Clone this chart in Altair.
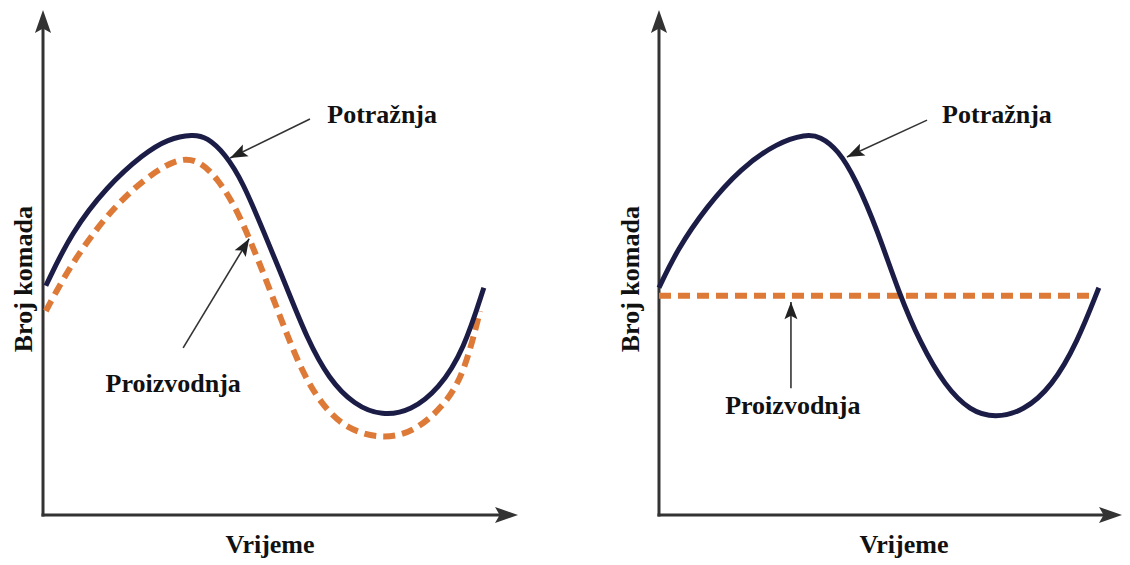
import math
import altair as alt
import pandas as pd

# ---------------- data (time 0..100, count 0..100) ----------------
# Left panel: production follows demand
L_time = [0.6, 6.0, 13.5, 21.1, 26.3, 31.6, 34.5, 38.3, 42.1, 46.5, 51.2, 55.6, 60.2, 65.5, 71.4, 77.5, 83.4, 88.6, 92.8]
L_demand = [45.4, 56.0, 65.1, 71.5, 74.5, 75.4, 74.8, 71.6, 65.9, 56.0, 45.3, 34.9, 26.9, 21.8, 19.6, 20.6, 25.0, 32.7, 45.0]
L_prod_time = [0.6, 5.9, 13.5, 21.1, 28.6, 33.1, 36.8, 40.6, 45.1, 49.7, 54.1, 58.5, 63.8, 71.4, 78.1, 84.2, 88.6, 92.0]
L_prod = [40.4, 49.7, 59.6, 66.5, 70.9, 70.1, 66.5, 61.0, 51.1, 39.8, 29.1, 22.0, 17.0, 15.0, 16.4, 21.4, 27.7, 40.4]

# Right panel: constant production
R_time = [0.0, 3.9, 10.2, 17.7, 25.5, 31.7, 34.8, 38.7, 42.5, 47.1, 51.8, 56.4, 61.8, 67.2, 72.6, 78.8, 84.9, 90.3, 95.0]
R_demand = [45.0, 52.5, 61.0, 68.7, 73.7, 75.4, 75.0, 72.3, 66.5, 56.6, 44.0, 34.1, 25.5, 20.6, 19.2, 20.6, 25.5, 34.1, 45.0]
R_prod_time = [0.0, 94.2]
R_prod = [43.4, 43.4]

# annotation labels and arrows (start -> tip)
L_labels = ["Potražnja", "Proizvodnja"]
L_label_x = [71.4, 27.4]
L_label_y = [77.6, 24.4]
L_arrow_x1 = [56.2, 29.5]
L_arrow_y1 = [78.4, 33.1]
L_arrow_x2 = [39.4, 43.4]
L_arrow_y2 = [70.7, 54.7]

R_labels = ["Potražnja", "Proizvodnja"]
R_label_x = [73.0, 28.9]
R_label_y = [77.6, 20.0]
R_arrow_x1 = [57.9, 28.5]
R_arrow_y1 = [78.2, 25.1]
R_arrow_x2 = [40.6, 28.5]
R_arrow_y2 = [70.9, 42.2]

X_TITLE = "Vrijeme"
Y_TITLE = "Broj komada"
L_xtitle_pos = (47.8, -7.5)
L_ytitle_pos = (-4.1, 46.7)
R_xtitle_pos = (52.9, -7.5)
R_ytitle_pos = (-6.0, 46.7)

# ---------------- styling / layout ----------------
W, H = 557, 549
L_XDOM = [-7.37, 109.89]
R_XDOM = [-20.30, 100.0]
YDOM = [-8.32, 100.40]

NAVY = "#1c1d47"
ORANGE = "#de7a38"
AXIS = "#333333"
FONT = "Liberation Serif"
FS = 26

HEAD_BIG = "M0,0 L0.7,2 L0,1.6 L-0.7,2 Z"
HEAD_SMALL = "M0,0 L0.75,2 L0,1.6 L-0.75,2 Z"


def angle_of(x1, y1, x2, y2, kx, ky):
    dx = (x2 - x1) * kx
    dy = -(y2 - y1) * ky
    return math.degrees(math.atan2(dx, -dy)) % 360


def panel(time, demand, ptime, prod, labels, lx, ly, ax1, ay1, ax2, ay2,
          xdom, xt_pos, yt_pos):
    kx = W / (xdom[1] - xdom[0])
    ky = H / (YDOM[1] - YDOM[0])
    xs = alt.Scale(domain=xdom, nice=False, zero=False)
    ys = alt.Scale(domain=YDOM, nice=False, zero=False)
    X = lambda f: alt.X(f, type="quantitative", scale=xs, axis=None)
    Y = lambda f: alt.Y(f, type="quantitative", scale=ys, axis=None)

    dem = pd.DataFrame({"t": time, "v": demand})
    prd = pd.DataFrame({"t": ptime, "v": prod})

    # axes with arrow heads
    back_x = 9 / kx
    back_y = 9 / ky
    axes = pd.DataFrame({"x": [0, 0], "y": [0, 0],
                         "x2": [0, 100 - back_x], "y2": [100 - back_y, 0]})
    tips = pd.DataFrame({"x": [0, 100], "y": [100, 0], "ang": [0, 90]})

    arrows = pd.DataFrame({"x": ax1, "y": ay1, "x2": ax2, "y2": ay2})
    heads = pd.DataFrame({
        "x": ax2, "y": ay2,
        "ang": [angle_of(a, b, c, d, kx, ky) for a, b, c, d in zip(ax1, ay1, ax2, ay2)],
    })
    lab = pd.DataFrame({"x": lx, "y": ly, "text": labels})
    xt = pd.DataFrame({"x": [xt_pos[0]], "y": [xt_pos[1]], "text": [X_TITLE]})
    yt = pd.DataFrame({"x": [yt_pos[0]], "y": [yt_pos[1]], "text": [Y_TITLE]})

    axis_lines = alt.Chart(axes).mark_rule(color=AXIS, strokeWidth=3, strokeCap="square").encode(
        x=X("x"), y=Y("y"), x2="x2", y2="y2")
    axis_heads = alt.Chart(tips).mark_point(shape=HEAD_BIG, filled=True, size=529, opacity=1,
                                            color=AXIS, strokeWidth=0).encode(
        x=X("x"), y=Y("y"), angle=alt.Angle("ang:Q", scale=None))

    prod_line = alt.Chart(prd).mark_line(color=ORANGE, strokeWidth=6, strokeDash=[12, 7],
                                         interpolate="basis").encode(x=X("t"), y=Y("v"))
    dem_line = alt.Chart(dem).mark_line(color=NAVY, strokeWidth=5,
                                        interpolate="basis").encode(x=X("t"), y=Y("v"))

    ann_lines = alt.Chart(arrows).mark_rule(color=AXIS, strokeWidth=1.6).encode(
        x=X("x"), y=Y("y"), x2="x2", y2="y2")
    ann_heads = alt.Chart(heads).mark_point(shape=HEAD_SMALL, filled=True, size=300, opacity=1,
                                            color="#222222", strokeWidth=0).encode(
        x=X("x"), y=Y("y"), angle=alt.Angle("ang:Q", scale=None))

    txt = dict(font=FONT, fontWeight="bold", fontSize=FS, color="#111111")
    labels_m = alt.Chart(lab).mark_text(align="center", baseline="alphabetic", **txt).encode(
        x=X("x"), y=Y("y"), text="text:N")
    xt_m = alt.Chart(xt).mark_text(align="center", baseline="alphabetic", **txt).encode(
        x=X("x"), y=Y("y"), text="text:N")
    yt_m = alt.Chart(yt).mark_text(align="center", baseline="middle", angle=270, **txt).encode(
        x=X("x"), y=Y("y"), text="text:N")

    return alt.layer(axis_lines, axis_heads, prod_line, dem_line, ann_lines, ann_heads,
                     labels_m, xt_m, yt_m).properties(width=W, height=H)


left = panel(L_time, L_demand, L_prod_time, L_prod, L_labels, L_label_x, L_label_y,
             L_arrow_x1, L_arrow_y1, L_arrow_x2, L_arrow_y2, L_XDOM, L_xtitle_pos, L_ytitle_pos)
right = panel(R_time, R_demand, R_prod_time, R_prod, R_labels, R_label_x, R_label_y,
              R_arrow_x1, R_arrow_y1, R_arrow_x2, R_arrow_y2, R_XDOM, R_xtitle_pos, R_ytitle_pos)

chart = alt.hconcat(left, right, spacing=0, bounds="flush").properties(
    padding=0, background="white"
).configure_view(stroke=None)

chart.save("out.html", embed_options={"renderer": "svg", "actions": False})
